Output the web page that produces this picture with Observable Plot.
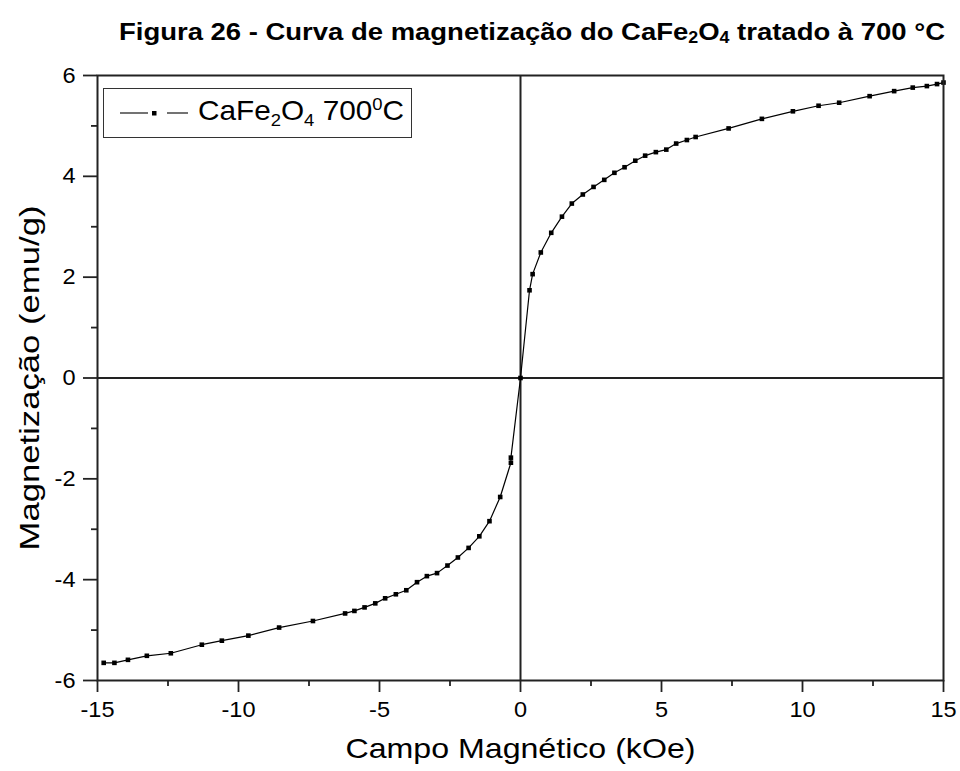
<!DOCTYPE html>
<html>
<head>
<meta charset="utf-8">
<script src="https://cdn.jsdelivr.net/npm/d3@7"></script>
<script src="https://cdn.jsdelivr.net/npm/@observablehq/plot@0.6"></script>
<style>
  html, body { margin: 0; padding: 0; background: #fff; }
  body { font-family: "Liberation Sans", Arial, Helvetica, sans-serif; color: #000; }
  #wrap { position: relative; width: 960px; height: 771px; overflow: hidden; }
  #title { position: absolute; left: 119px; top: 20px; font-size: 24px; font-weight: bold; line-height: 1; white-space: nowrap; transform-origin: 0 0; }
  #title sub { font-size: 0.65em; vertical-align: -0.2em; line-height: 0; }
  #chart { position: absolute; left: 0; top: 55px; }
  #legend { position: absolute; left: 103px; top: 88px; width: 307px; height: 48px; border: 1.5px solid #333; background: #fff; box-sizing: content-box; }
  #legend svg { position: absolute; left: 0; top: 0; }
  #legend .lab { position: absolute; left: 94px; top: 8px; font-size: 28px; line-height: 1; white-space: nowrap; transform-origin: 0 50%; }
  #legend sub { font-size: 0.62em; vertical-align: -0.35em; line-height: 0; }
  #legend sup { font-size: 0.62em; vertical-align: 0.55em; line-height: 0; }
</style>
</head>
<body>
<div id="wrap">
  <div id="title">Figura 26 - Curva de magnetização do CaFe<sub>2</sub>O<sub>4</sub> tratado à 700 °C</div>
  <div id="chart"></div>
  <div id="legend">
    <svg width="90" height="48">
      <line x1="16" y1="24" x2="44" y2="24" stroke="#000" stroke-width="1.1"/>
      <rect x="48" y="22" width="4.5" height="4.5" fill="#000"/>
      <line x1="63" y1="24" x2="84" y2="24" stroke="#000" stroke-width="1.1"/>
    </svg>
    <div class="lab" id="legendLabel">CaFe<sub>2</sub>O<sub>4</sub> 700<sup>0</sup>C</div>
  </div>
</div>
<script>
// ---- Data ----
const field = [
  -14.78, -14.40, -13.92, -13.25, -12.40, -11.30, -10.59, -9.65, -8.56, -7.36,
  -6.22, -5.89, -5.53, -5.15, -4.80, -4.42, -4.05, -3.67, -3.32, -2.96,
  -2.59, -2.22, -1.84, -1.46, -1.10, -0.72, -0.34, -0.34,
  0, 0.32, 0.43, 0.72, 1.09, 1.47, 1.82, 2.21, 2.59, 2.97,
  3.33, 3.69, 4.07, 4.42, 4.80, 5.17, 5.52, 5.90, 6.21, 7.38,
  8.56, 9.66, 10.57, 11.30, 12.38, 13.25, 13.91, 14.41, 14.77, 15.0
];
const magnetization = [
  -5.65, -5.65, -5.59, -5.51, -5.46, -5.29, -5.21, -5.11, -4.95, -4.82,
  -4.67, -4.62, -4.55, -4.47, -4.37, -4.29, -4.21, -4.05, -3.93, -3.87,
  -3.72, -3.56, -3.37, -3.14, -2.84, -2.36, -1.68, -1.58,
  0, 1.74, 2.06, 2.49, 2.88, 3.20, 3.46, 3.64, 3.79, 3.93,
  4.07, 4.18, 4.31, 4.41, 4.48, 4.53, 4.65, 4.72, 4.78, 4.95,
  5.14, 5.29, 5.40, 5.46, 5.59, 5.69, 5.76, 5.79, 5.83, 5.86
];
const xMajorTicks = [-15, -10, -5, 0, 5, 10, 15];
const xMinorTicks = [-12.5, -7.5, -2.5, 2.5, 7.5, 12.5];
const yMajorTicks = [-6, -4, -2, 0, 2, 4, 6];
const yMinorTicks = [-5, -3, -1, 1, 3, 5];
const xTitle = "Campo Magnético (kOe)";
const yTitle = "Magnetização (emu/g)";

const data = field.map((f, i) => ({H: f, M: magnetization[i]}));
const axisColor = "#222";
const plain = d => `${d}`;

const chart = Plot.plot({
  width: 960,
  height: 716,
  marginTop: 20,
  marginBottom: 91,
  marginLeft: 97,
  marginRight: 17,
  style: {fontFamily: "'Liberation Sans', Arial, sans-serif", fontSize: "22px", color: "#000", background: "#fff", overflow: "visible"},
  x: {domain: [-15, 15]},
  y: {domain: [-6, 6]},
  marks: [
    Plot.ruleY([0], {stroke: axisColor, strokeWidth: 2}),
    Plot.ruleX([0], {stroke: axisColor, strokeWidth: 2}),
    Plot.line(data, {x: "H", y: "M", stroke: "#000", strokeWidth: 1.2}),
    Plot.dot(data, {x: "H", y: "M", symbol: "square", r: 2.6, fill: "#000", stroke: "none"}),
    Plot.frame({stroke: axisColor, strokeWidth: 2}),
    Plot.axisX(xMinorTicks, {tickSize: 6, tickFormat: () => "", label: null, stroke: axisColor, strokeWidth: 1.8}),
    Plot.axisX(xMajorTicks, {tickSize: 12, tickPadding: 9, tickFormat: plain, label: null, stroke: axisColor, strokeWidth: 1.8, fill: "#000"}),
    Plot.axisY(yMinorTicks, {tickSize: 6, tickFormat: () => "", label: null, stroke: axisColor, strokeWidth: 1.8}),
    Plot.axisY(yMajorTicks, {tickSize: 14, tickPadding: 8, tickFormat: plain, label: null, stroke: axisColor, strokeWidth: 1.8, fill: "#000"}),
    Plot.text([xTitle], {text: d => d, frameAnchor: "bottom", dy: 77, fontSize: 28, fill: "#000", className: "xtitle"}),
    Plot.text([yTitle], {text: d => d, frameAnchor: "left", dx: -67, rotate: -90, fontSize: 28, fill: "#000", className: "ytitle"})
  ]
});
document.getElementById("chart").appendChild(chart);

// stretch text widths to match the reference's wide lettering
function fit(el, target, center) {
  const w = el.getComputedTextLength();
  if (w > 0) {
    el.setAttribute("textLength", target);
    el.setAttribute("lengthAdjust", "spacingAndGlyphs");
    if (center) {
      el.setAttribute("text-anchor", "start");
      el.style.textAnchor = "start";
      el.setAttribute("x", -target / 2);
    }
  }
}
chart.querySelectorAll('g[aria-label="x-axis tick label"] text, g[aria-label="y-axis tick label"] text').forEach(t => {
  const w = t.getComputedTextLength();
  if (w > 0) fit(t, w * 1.07, false);
});
chart.querySelectorAll('.xtitle text').forEach(t => fit(t, 350, true));
chart.querySelectorAll('.ytitle text').forEach(t => fit(t, 345, true));

// title width
const title = document.getElementById("title");
const tw = title.getBoundingClientRect().width;
title.style.transform = `scaleX(${826 / tw})`;

// legend label width
const lab = document.getElementById("legendLabel");
const lw = lab.getBoundingClientRect().width;
lab.style.transform = `scaleX(${206 / lw})`;
</script>
</body>
</html>
